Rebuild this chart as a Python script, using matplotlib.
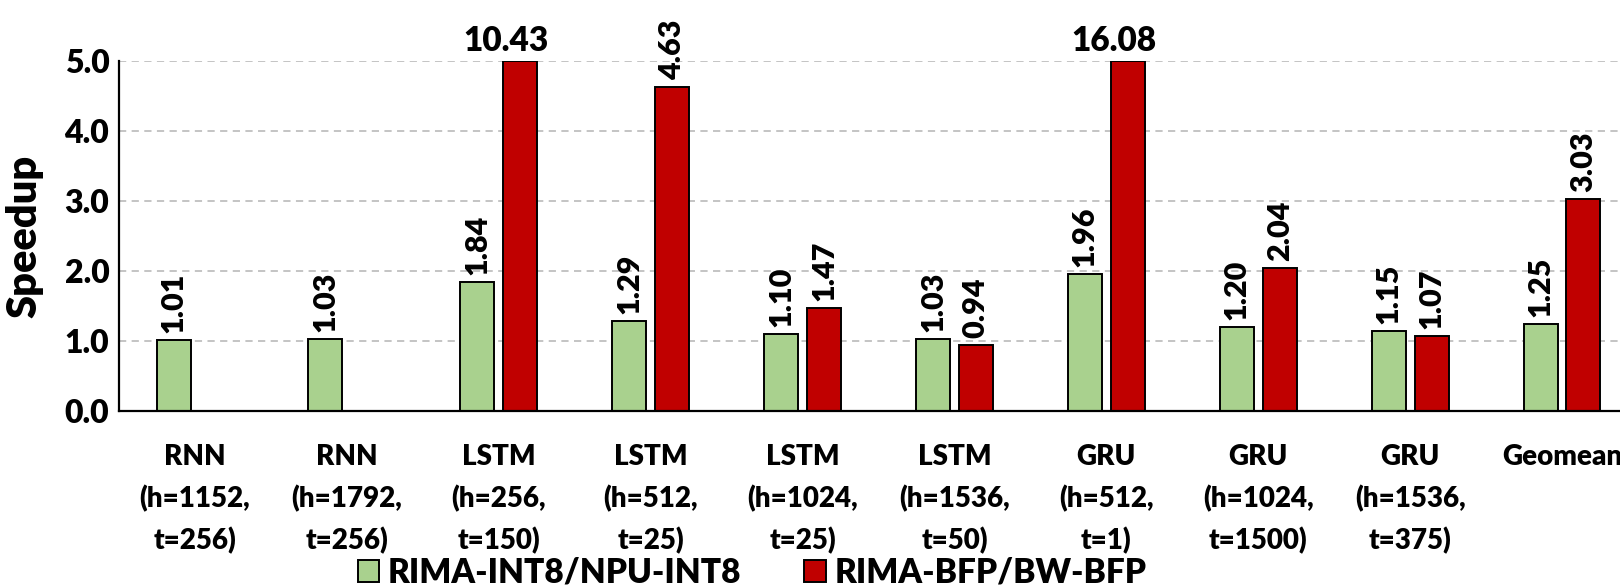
import numpy as np
import matplotlib
matplotlib.use("Agg")
import matplotlib.pyplot as plt
from matplotlib.patches import Patch

# data
categories = ["RNN\n(h=1152,\nt=256)", "RNN\n(h=1792,\nt=256)", "LSTM\n(h=256,\nt=150)",
              "LSTM\n(h=512,\nt=25)", "LSTM\n(h=1024,\nt=25)", "LSTM\n(h=1536,\nt=50)",
              "GRU\n(h=512,\nt=1)", "GRU\n(h=1024,\nt=1500)", "GRU\n(h=1536,\nt=375)",
              "Geomean"]
int8_speedup = [1.01, 1.03, 1.84, 1.29, 1.10, 1.03, 1.96, 1.20, 1.15, 1.25]
bfp_speedup = [np.nan, np.nan, 10.43, 4.63, 1.47, 0.94, 16.08, 2.04, 1.07, 3.03]
series_names = ["RIMA-INT8/NPU-INT8", "RIMA-BFP/BW-BFP"]
yticks = [0.0, 1.0, 2.0, 3.0, 4.0, 5.0]
ymax = 5.0

green = "#A9D18E"
red = "#C00000"
wt = "heavy"

plt.rcParams['font.family'] = ['Lato', 'DejaVu Sans']

W, H = 1620, 586
fig = plt.figure(figsize=(W / 100, H / 100), dpi=100)
# axes runs past the right edge, as in the cropped original
ax = fig.add_axes([119 / W, (H - 411) / H, 1519 / W, 350 / H])

x = np.arange(len(categories))
bw = 0.224
off = 0.141
ax.bar(x - off, int8_speedup, bw, color=green, edgecolor="black", linewidth=1.4, zorder=3)
ax.bar(x + off, np.minimum(bfp_speedup, ymax), bw, color=red, edgecolor="black",
       linewidth=1.4, zorder=3)

# value labels
for i, v in enumerate(int8_speedup):
    ax.annotate("%.2f" % v, (x[i] - off, v), xytext=(0, 5), textcoords="offset points",
                rotation=90, ha="center", va="bottom", fontsize=22, fontweight=wt)
for i, v in enumerate(bfp_speedup):
    if np.isnan(v):
        continue
    if v > ymax:
        ax.annotate("%.2f" % v, (x[i] + 0.05, ymax), xytext=(0, 3), textcoords="offset points",
                    ha="center", va="bottom", fontsize=24, fontweight=wt,
                    annotation_clip=False)
    else:
        ax.annotate("%.2f" % v, (x[i] + off, v), xytext=(0, 5), textcoords="offset points",
                    rotation=90, ha="center", va="bottom", fontsize=22, fontweight=wt)

ax.set_xlim(-0.5, len(categories) - 0.5)
ax.set_ylim(0, ymax)
ax.set_yticks(yticks)
ax.set_yticklabels(["%.1f" % t for t in yticks], fontsize=23, fontweight=wt)
ax.set_xticks(x)
ax.set_xticklabels(categories, fontsize=20, fontweight=wt, linespacing=1.65)
ax.tick_params(axis="both", length=0)
ax.tick_params(axis="x", pad=24)
ax.tick_params(axis="y", pad=7)

ax.yaxis.grid(True, linestyle=(0, (4, 3)), color="#bfbfbf", linewidth=1.3, zorder=0)
ax.set_axisbelow(True)
for s in ["top", "right"]:
    ax.spines[s].set_visible(False)
for s in ["left", "bottom"]:
    ax.spines[s].set_linewidth(1.6)
    ax.spines[s].set_zorder(4)

ax.set_ylabel("Speedup", fontsize=30, fontweight=wt)
ax.yaxis.set_label_coords(-0.050, 0.5)

handles = [Patch(facecolor=green, edgecolor="black", linewidth=1.4),
           Patch(facecolor=red, edgecolor="black", linewidth=1.4)]
fig.legend(handles, series_names, loc="lower center", bbox_to_anchor=(752 / W, -0.004),
           ncol=2, frameon=False, prop={"size": 24, "weight": wt},
           handlelength=0.65, handleheight=0.65, handletextpad=0.25,
           columnspacing=1.9, borderpad=0, borderaxespad=0)

fig.savefig("out.png", dpi=100)
